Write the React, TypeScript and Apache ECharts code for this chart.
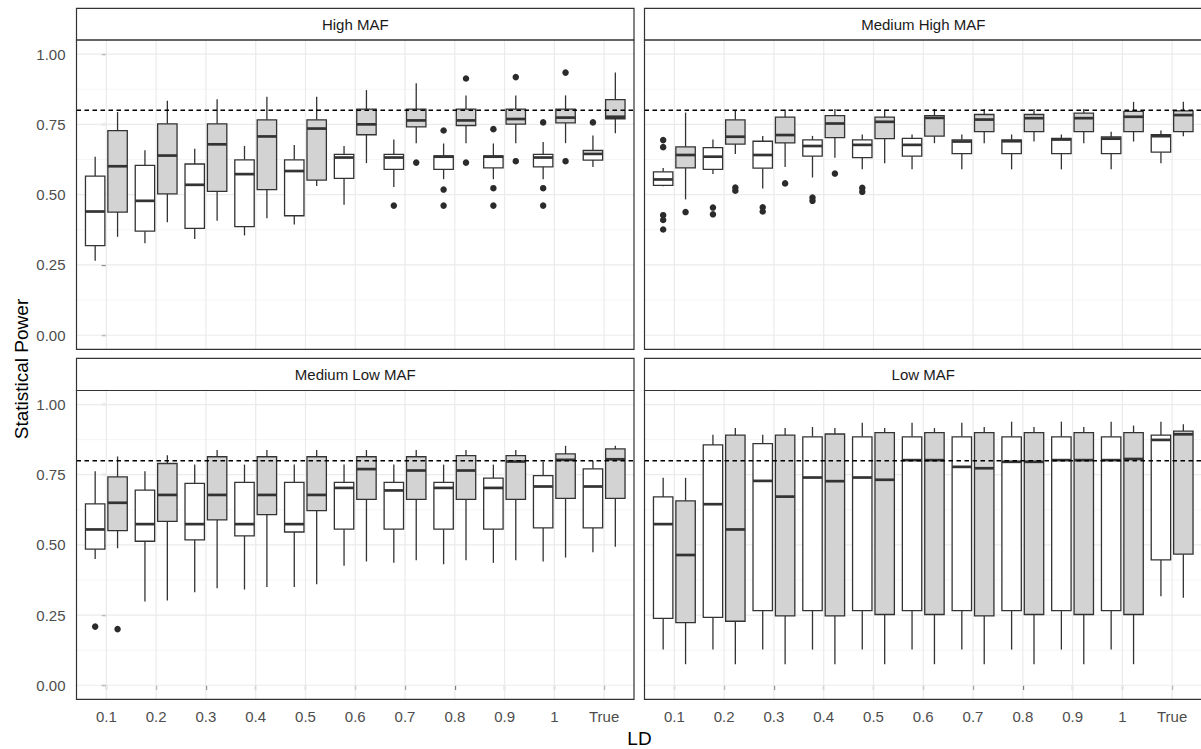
import React, { useEffect, useRef } from "react";
import * as echarts from "echarts";

// ---------- data ----------
const ldLabels = ["0.1", "0.2", "0.3", "0.4", "0.5", "0.6", "0.7", "0.8", "0.9", "1", "True"];
const yTickValues = [0, 0.25, 0.5, 0.75, 1];
const yMinorValues = [0.125, 0.375, 0.625, 0.875];
const powerThreshold = 0.8;
const panelTitles = ["High MAF", "Medium High MAF", "Medium Low MAF", "Low MAF"];

// each row: [min, q1, median, q3, max]
const highMafWhite = [
  [0.265, 0.319, 0.44, 0.566, 0.635],
  [0.327, 0.37, 0.478, 0.604, 0.658],
  [0.342, 0.38, 0.535, 0.609, 0.663],
  [0.355, 0.386, 0.573, 0.624, 0.673],
  [0.394, 0.425, 0.584, 0.624, 0.677],
  [0.464, 0.558, 0.632, 0.643, 0.673],
  [0.527, 0.59, 0.632, 0.643, 0.696],
  [0.555, 0.59, 0.635, 0.638, 0.682],
  [0.555, 0.595, 0.635, 0.638, 0.682],
  [0.555, 0.599, 0.632, 0.643, 0.687],
  [0.598, 0.623, 0.645, 0.657, 0.71],
];
const highMafGrey = [
  [0.35, 0.438, 0.601, 0.728, 0.794],
  [0.402, 0.503, 0.639, 0.752, 0.834],
  [0.407, 0.512, 0.679, 0.752, 0.839],
  [0.416, 0.518, 0.707, 0.766, 0.848],
  [0.531, 0.552, 0.735, 0.766, 0.848],
  [0.612, 0.713, 0.75, 0.804, 0.872],
  [0.683, 0.741, 0.764, 0.804, 0.896],
  [0.683, 0.746, 0.764, 0.804, 0.853],
  [0.683, 0.751, 0.769, 0.804, 0.853],
  [0.683, 0.755, 0.774, 0.804, 0.853],
  [0.718, 0.77, 0.777, 0.838, 0.934],
];
const medHighWhite = [
  [0.53, 0.533, 0.554, 0.581, 0.595],
  [0.573, 0.59, 0.635, 0.667, 0.696],
  [0.522, 0.594, 0.641, 0.69, 0.709],
  [0.561, 0.637, 0.673, 0.695, 0.709],
  [0.59, 0.632, 0.677, 0.695, 0.714],
  [0.59, 0.637, 0.677, 0.7, 0.714],
  [0.59, 0.646, 0.689, 0.695, 0.714],
  [0.59, 0.646, 0.69, 0.695, 0.714],
  [0.59, 0.646, 0.696, 0.7, 0.714],
  [0.59, 0.646, 0.699, 0.705, 0.724],
  [0.612, 0.651, 0.708, 0.713, 0.728],
];
const medHighGrey = [
  [0.483, 0.595, 0.641, 0.67, 0.792],
  [0.645, 0.68, 0.706, 0.766, 0.798],
  [0.598, 0.684, 0.712, 0.776, 0.803],
  [0.631, 0.703, 0.753, 0.781, 0.805],
  [0.612, 0.699, 0.759, 0.776, 0.803],
  [0.683, 0.708, 0.773, 0.781, 0.805],
  [0.683, 0.724, 0.767, 0.785, 0.805],
  [0.689, 0.724, 0.772, 0.785, 0.805],
  [0.683, 0.724, 0.772, 0.79, 0.805],
  [0.689, 0.724, 0.777, 0.796, 0.83],
  [0.708, 0.724, 0.783, 0.798, 0.83],
];
const medLowWhite = [
  [0.45, 0.485, 0.555, 0.646, 0.762],
  [0.298, 0.513, 0.574, 0.695, 0.762],
  [0.331, 0.518, 0.574, 0.719, 0.786],
  [0.341, 0.532, 0.574, 0.723, 0.786],
  [0.35, 0.546, 0.574, 0.723, 0.786],
  [0.426, 0.556, 0.703, 0.723, 0.786],
  [0.436, 0.556, 0.694, 0.723, 0.786],
  [0.431, 0.556, 0.703, 0.723, 0.786],
  [0.436, 0.556, 0.703, 0.738, 0.786],
  [0.441, 0.561, 0.708, 0.747, 0.796],
  [0.474, 0.561, 0.708, 0.771, 0.8],
];
const medLowGrey = [
  [0.488, 0.551, 0.65, 0.742, 0.815],
  [0.302, 0.584, 0.678, 0.79, 0.819],
  [0.346, 0.589, 0.678, 0.814, 0.838],
  [0.35, 0.608, 0.678, 0.814, 0.838],
  [0.36, 0.622, 0.678, 0.814, 0.838],
  [0.441, 0.662, 0.77, 0.814, 0.838],
  [0.445, 0.662, 0.765, 0.814, 0.838],
  [0.445, 0.662, 0.765, 0.818, 0.838],
  [0.445, 0.662, 0.797, 0.818, 0.838],
  [0.455, 0.666, 0.803, 0.824, 0.853],
  [0.493, 0.666, 0.805, 0.842, 0.853],
];
const lowWhite = [
  [0.127, 0.238, 0.574, 0.671, 0.739],
  [0.127, 0.242, 0.645, 0.856, 0.892],
  [0.127, 0.266, 0.728, 0.861, 0.892],
  [0.127, 0.266, 0.74, 0.885, 0.92],
  [0.127, 0.266, 0.74, 0.885, 0.935],
  [0.127, 0.266, 0.802, 0.885, 0.935],
  [0.127, 0.266, 0.778, 0.885, 0.935],
  [0.127, 0.266, 0.796, 0.885, 0.939],
  [0.127, 0.266, 0.802, 0.885, 0.939],
  [0.127, 0.266, 0.802, 0.885, 0.939],
  [0.317, 0.447, 0.874, 0.891, 0.939],
];
const lowGrey = [
  [0.075, 0.223, 0.464, 0.657, 0.739],
  [0.075, 0.228, 0.555, 0.891, 0.916],
  [0.075, 0.247, 0.672, 0.891, 0.916],
  [0.075, 0.247, 0.727, 0.895, 0.916],
  [0.075, 0.252, 0.732, 0.9, 0.916],
  [0.075, 0.252, 0.802, 0.9, 0.916],
  [0.075, 0.247, 0.773, 0.9, 0.92],
  [0.075, 0.252, 0.796, 0.9, 0.92],
  [0.075, 0.252, 0.802, 0.9, 0.92],
  [0.075, 0.252, 0.806, 0.9, 0.925],
  [0.312, 0.467, 0.894, 0.905, 0.93],
];

// outliers: [category index, value]
const highMafWhiteOut = [
  [6, 0.461],
  [7, 0.728], [7, 0.518], [7, 0.461],
  [8, 0.733], [8, 0.523], [8, 0.461],
  [9, 0.757], [9, 0.523], [9, 0.461],
  [10, 0.757],
];
const highMafGreyOut = [
  [6, 0.614],
  [7, 0.913], [7, 0.614],
  [8, 0.918], [8, 0.619],
  [9, 0.934], [9, 0.619],
];
const medHighWhiteOut = [
  [0, 0.694], [0, 0.669], [0, 0.427], [0, 0.41], [0, 0.376],
  [1, 0.454], [1, 0.43],
  [2, 0.455], [2, 0.44],
  [3, 0.49], [3, 0.478],
  [4, 0.524], [4, 0.51],
];
const medHighGreyOut = [
  [0, 0.438],
  [1, 0.525], [1, 0.514],
  [2, 0.54],
  [3, 0.575],
];
const medLowWhiteOut = [[0, 0.209]];
const medLowGreyOut = [[0, 0.2]];
const lowWhiteOut: number[][] = [];
const lowGreyOut: number[][] = [];

// ---------- layout / style ----------
const FONT = "'Liberation Sans', Arial, sans-serif";
const PANEL_W = 557.5;
const LEFTS = [76.5, 644.5];
const PLOT_TOPS = [40, 390.5];
const PLOT_H = [309.3, 308.8];
const STRIP_TOPS = [8.3, 358.3];
const OFFSET = 0.225;
const BOX_W = 0.39;
const X_MIN = -0.6;
const X_MAX = 10.6;
const Y_MIN = -0.05;
const Y_MAX = 1.05;
const EDGE = "#333333";

const panels = [
  { title: panelTitles[0], white: highMafWhite, grey: highMafGrey, wOut: highMafWhiteOut, gOut: highMafGreyOut },
  { title: panelTitles[1], white: medHighWhite, grey: medHighGrey, wOut: medHighWhiteOut, gOut: medHighGreyOut },
  { title: panelTitles[2], white: medLowWhite, grey: medLowGrey, wOut: medLowWhiteOut, gOut: medLowGreyOut },
  { title: panelTitles[3], white: lowWhite, grey: lowGrey, wOut: lowWhiteOut, gOut: lowGreyOut },
];

const catIdx = ldLabels.map((_, i) => i);

function boxRender(fill: string) {
  return (params: any, api: any) => {
    const x = api.value(0);
    const w = api.size([BOX_W, 0])[0];
    const pMin = api.coord([x, api.value(1)]);
    const cx = pMin[0];
    const yMin = pMin[1];
    const yQ1 = api.coord([x, api.value(2)])[1];
    const yMed = api.coord([x, api.value(3)])[1];
    const yQ3 = api.coord([x, api.value(4)])[1];
    const yMax = api.coord([x, api.value(5)])[1];
    const lw = 1.3;
    return {
      type: "group",
      children: [
        { type: "line", shape: { x1: cx, y1: yQ1, x2: cx, y2: yMin }, style: { stroke: EDGE, lineWidth: lw } },
        { type: "line", shape: { x1: cx, y1: yQ3, x2: cx, y2: yMax }, style: { stroke: EDGE, lineWidth: lw } },
        {
          type: "rect",
          shape: { x: cx - w / 2, y: yQ3, width: w, height: yQ1 - yQ3 },
          style: { fill, stroke: EDGE, lineWidth: lw },
        },
        {
          type: "line",
          shape: { x1: cx - w / 2, y1: yMed, x2: cx + w / 2, y2: yMed },
          style: { stroke: EDGE, lineWidth: 2.7 },
        },
      ],
    };
  };
}

function gridRender(params: any, api: any) {
  const kind = api.value(2);
  let p1, p2;
  if (kind < 2) {
    p1 = api.coord([X_MIN, api.value(1)]);
    p2 = api.coord([X_MAX, api.value(1)]);
  } else {
    p1 = api.coord([api.value(0), Y_MIN]);
    p2 = api.coord([api.value(0), Y_MAX]);
  }
  return {
    type: "line",
    shape: { x1: p1[0], y1: p1[1], x2: p2[0], y2: p2[1] },
    style: { stroke: kind === 1 ? "#f2f2f2" : "#ebebeb", lineWidth: kind === 1 ? 0.8 : 1.2 },
  };
}

function refRender(params: any, api: any) {
  const v = api.value(1);
  const p1 = api.coord([X_MIN, v]);
  const p2 = api.coord([X_MAX, v]);
  return {
    type: "line",
    shape: { x1: p1[0], y1: p1[1], x2: p2[0], y2: p2[1] },
    style: { stroke: "#000000", lineWidth: 1.4, lineDash: [4.5, 3.5] },
  };
}

function buildOption() {
  const grids: any[] = [];
  const xAxes: any[] = [];
  const yAxes: any[] = [];
  const series: any[] = [];
  const graphics: any[] = [];

  const gridData = [
    ...yTickValues.map((v) => [X_MIN, v, 0]),
    ...yMinorValues.map((v) => [X_MIN, v, 1]),
    ...catIdx.map((i) => [i, Y_MIN, 2]),
  ];

  panels.forEach((p, gi) => {
    const col = gi % 2;
    const row = Math.floor(gi / 2);
    const left = LEFTS[col];
    const top = PLOT_TOPS[row];
    const h = PLOT_H[row];
    const showX = row === 1;
    const showY = col === 0;

    grids.push({
      left,
      top,
      width: PANEL_W,
      height: h,
      show: false,
      containLabel: false,
      outerBoundsMode: "none",
    });
    xAxes.push({
      type: "value",
      gridIndex: gi,
      min: X_MIN,
      max: X_MAX,
      axisLine: { show: false },
      splitLine: { show: false },
      axisTick: {
        show: showX,
        customValues: catIdx,
        length: 4.7,
        lineStyle: { color: EDGE, width: 1.2 },
      },
      axisLabel: {
        show: showX,
        customValues: catIdx,
        formatter: (v: number) => ldLabels[Math.round(v)] ?? "",
        color: "#4d4d4d",
        fontSize: 15,
        fontFamily: FONT,
        margin: 10,
      },
    });
    yAxes.push({
      type: "value",
      gridIndex: gi,
      min: Y_MIN,
      max: Y_MAX,
      axisLine: { show: false },
      splitLine: { show: false },
      axisTick: {
        show: showY,
        customValues: yTickValues,
        length: 4.7,
        lineStyle: { color: EDGE, width: 1.2 },
      },
      axisLabel: {
        show: showY,
        customValues: yTickValues,
        formatter: (v: number) => v.toFixed(2),
        color: "#4d4d4d",
        fontSize: 15,
        fontFamily: FONT,
        margin: 11,
      },
    });

    series.push({
      type: "custom",
      xAxisIndex: gi,
      yAxisIndex: gi,
      z: 1,
      silent: true,
      renderItem: gridRender,
      data: gridData,
    });
    series.push({
      type: "custom",
      xAxisIndex: gi,
      yAxisIndex: gi,
      z: 2,
      silent: true,
      renderItem: boxRender("#ffffff"),
      encode: { x: 0, y: [1, 2, 3, 4, 5] },
      data: p.white.map((s, i) => [i - OFFSET, ...s]),
    });
    series.push({
      type: "custom",
      xAxisIndex: gi,
      yAxisIndex: gi,
      z: 2,
      silent: true,
      renderItem: boxRender("#d3d3d3"),
      encode: { x: 0, y: [1, 2, 3, 4, 5] },
      data: p.grey.map((s, i) => [i + OFFSET, ...s]),
    });
    series.push({
      type: "scatter",
      xAxisIndex: gi,
      yAxisIndex: gi,
      z: 3,
      silent: true,
      symbol: "circle",
      symbolSize: 6.5,
      itemStyle: { color: "#2b2b2b", opacity: 1 },
      data: [
        ...p.wOut.map((o) => [o[0] - OFFSET, o[1]]),
        ...p.gOut.map((o) => [o[0] + OFFSET, o[1]]),
      ],
    });
    series.push({
      type: "custom",
      xAxisIndex: gi,
      yAxisIndex: gi,
      z: 4,
      silent: true,
      renderItem: refRender,
      data: [[X_MIN, powerThreshold]],
    });

    // strip
    const stripTop = STRIP_TOPS[row];
    graphics.push({
      type: "rect",
      z: 100,
      silent: true,
      shape: { x: left, y: stripTop, width: PANEL_W, height: top - stripTop },
      style: { fill: "#ffffff", stroke: EDGE, lineWidth: 1.2 },
    });
    graphics.push({
      type: "text",
      z: 101,
      silent: true,
      x: left + PANEL_W / 2,
      y: stripTop + (top - stripTop) / 2,
      style: {
        text: p.title,
        fill: "#1a1a1a",
        fontSize: 15,
        fontFamily: FONT,
        align: "center",
        verticalAlign: "middle",
        textAlign: "center",
        textVerticalAlign: "middle",
      },
    });
    // panel border
    graphics.push({
      type: "rect",
      z: 100,
      silent: true,
      shape: { x: left, y: top, width: PANEL_W, height: h },
      style: { fill: "none", stroke: EDGE, lineWidth: 1.2 },
    });
  });

  graphics.push({
    type: "text",
    z: 101,
    silent: true,
    x: 639.5,
    y: 738.5,
    style: {
      text: "LD",
      fill: "#000000",
      fontSize: 19,
      fontFamily: FONT,
      align: "center",
      verticalAlign: "middle",
      textAlign: "center",
      textVerticalAlign: "middle",
    },
  });
  graphics.push({
    type: "text",
    z: 101,
    silent: true,
    x: 21,
    y: 369,
    rotation: Math.PI / 2,
    style: {
      text: "Statistical Power",
      fill: "#000000",
      fontSize: 19,
      fontFamily: FONT,
      align: "center",
      verticalAlign: "middle",
      textAlign: "center",
      textVerticalAlign: "middle",
    },
  });

  return {
    animation: false,
    backgroundColor: "#ffffff",
    grid: grids,
    xAxis: xAxes,
    yAxis: yAxes,
    series,
    graphic: { elements: graphics },
  };
}

export default function App() {
  const ref = useRef<HTMLDivElement | null>(null);
  useEffect(() => {
    if (!ref.current) return;
    const chart = echarts.init(ref.current, null, { renderer: "svg" });
    chart.setOption(buildOption() as any);
    return () => chart.dispose();
  }, []);
  return (
    <div
      ref={ref}
      style={{ position: "fixed", left: 0, top: 0, width: 1201, height: 749, background: "#ffffff" }}
    />
  );
}
